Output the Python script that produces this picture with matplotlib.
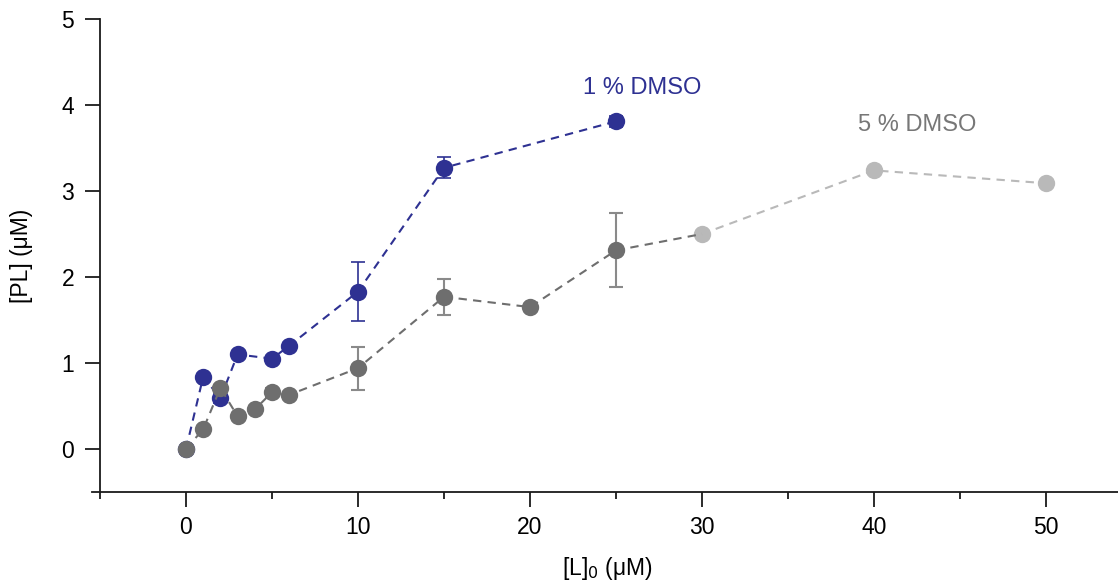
import matplotlib.pyplot as plt
from matplotlib.ticker import MultipleLocator

plt.rcParams["font.family"] = ["Liberation Sans", "DejaVu Sans"]

# 1 % DMSO titration
conc_1 = [0, 1, 2, 3, 5, 6, 10, 15, 25]
pl_1 = [0.0, 0.84, 0.59, 1.10, 1.05, 1.20, 1.83, 3.27, 3.81]
err_1 = [0.0, 0.0, 0.06, 0.0, 0.0, 0.0, 0.34, 0.12, 0.06]

# 5 % DMSO titration (low range, measured with replicates)
conc_5 = [0, 1, 2, 3, 4, 5, 6, 10, 15, 20, 25]
pl_5 = [0.0, 0.23, 0.71, 0.38, 0.46, 0.66, 0.63, 0.94, 1.77, 1.65, 2.31]
err_5 = [0.0, 0.0, 0.0, 0.0, 0.0, 0.05, 0.0, 0.25, 0.21, 0.0, 0.43]

# 5 % DMSO, high range single points
conc_5_hi = [30, 40, 50]
pl_5_hi = [2.50, 3.24, 3.09]

BLUE = "#2E3192"
DARK = "#6E6E6E"
LIGHT = "#B9B9B9"

fig = plt.figure(figsize=(11.18, 5.83), dpi=100)

# axes placed so the data range lines up with the frame
xmin, xmax = -5.45, 54.2
ymin, ymax = -0.5, 5.0
left_px, right_px = 186 + xmin * 17.2, 186 + xmax * 17.2
ax = fig.add_axes([left_px / 1118, 1 - 492 / 583,
                   (right_px - left_px) / 1118, (492 - 19) / 583])

# light gray high-concentration points
ax.plot(conc_5_hi, pl_5_hi, ls=(0, (4, 3)), lw=1.5, color=LIGHT,
        marker="o", ms=12.5, mec="none", zorder=2)

# blue series
ax.errorbar(conc_1, pl_1, yerr=err_1, fmt="o", ms=12.5, color=BLUE, mec="none",
            ecolor=BLUE, elinewidth=1.2, capsize=5, capthick=1.2, zorder=3)
ax.plot(conc_1, pl_1, ls=(0, (4, 3)), lw=1.5, color=BLUE, zorder=3)

# dark gray series, dashed line carried on to the 30 uM point
ax.errorbar(conc_5, pl_5, yerr=err_5, fmt="o", ms=12.5, color=DARK, mec="none",
            ecolor="#8A8A8A", elinewidth=1.5, capsize=5, capthick=1.5, zorder=4)
ax.plot(conc_5 + conc_5_hi[:1], pl_5 + pl_5_hi[:1], ls=(0, (4, 3)), lw=1.5,
        color=DARK, zorder=4)

ax.text(26.5, 4.2, "1 % DMSO", color=BLUE, fontsize=17, ha="center", va="center")
ax.text(42.5, 3.77, "5 % DMSO", color="#777777", fontsize=17, ha="center", va="center")

ax.set_xlim(xmin, xmax)
ax.set_ylim(ymin, ymax)
ax.spines["top"].set_visible(False)
ax.spines["right"].set_visible(False)
ax.spines["left"].set_position(("data", -5))
ax.spines["left"].set_bounds(ymin, ymax)
for s in ("left", "bottom"):
    ax.spines[s].set_linewidth(1.3)
    ax.spines[s].set_color("#1a1a1a")

ax.xaxis.set_minor_locator(MultipleLocator(5))
ax.set_xticks(range(0, 51, 10))
ax.set_yticks(range(0, 6))
ax.tick_params(axis="both", which="major", direction="out", length=10.5, width=1.3,
               labelsize=16.5, color="#1a1a1a")
ax.tick_params(axis="y", which="major", pad=8)
ax.tick_params(axis="x", which="major", pad=7)
ax.tick_params(axis="x", which="minor", direction="out", length=5, width=1.3,
               color="#1a1a1a")

ax.set_ylabel("[PL] (\u03bcM)", fontsize=16.5)
ax.yaxis.set_label_coords((33 - left_px) / (right_px - left_px), 0.5)
ax.set_xlabel("[L]$_0$ (\u03bcM)", fontsize=16.5, va="top")
ax.xaxis.set_label_coords((607 - left_px) / (right_px - left_px), -(555 - 492) / 473)

fig.savefig("out.png", dpi=100)
